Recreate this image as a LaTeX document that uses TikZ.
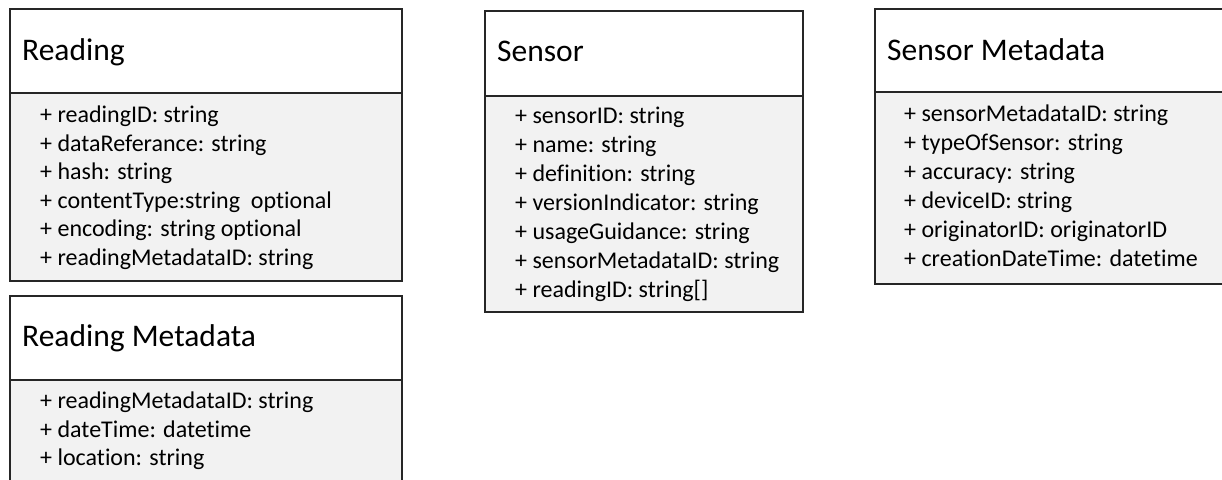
\documentclass[tikz,border=0pt]{standalone}
\usepackage{fontspec}
\setmainfont{Carlito}[Ligatures=NoCommon]
\begin{document}
\tikzset{
  boxline/.style={draw=black!85, line width=1.4pt},
  headbox/.style={boxline, fill=white},
  bodybox/.style={boxline, fill=black!5},
  classtitle/.style={anchor=base west, inner sep=0pt, font=\fontsize{31.5}{36}\selectfont},
  attr/.style={anchor=base west, inner sep=0pt, font=\fontsize{24}{28}\selectfont},
}
\begin{tikzpicture}[x=1pt, y=-1pt]
  \useasboundingbox (0,0) rectangle (1222,479);

  % Reading
  \path[headbox] (10,9) rectangle (402,93);
  \path[bodybox] (10,93) rectangle (402,281);
  \node[classtitle] (reading) at (22,60) {Reading};
  \foreach \t [count=\i] in {%
      + readingID: string,
      + dataReferance: string,
      + hash: string,
      + contentType:string\ \ optional,
      + encoding: string optional,
      + readingMetadataID: string}
    \node[attr] (reading-\i) at (40,{122.7+(\i-1)*28.5}) {\t};

  % Reading Metadata
  \path[headbox] (10,296) rectangle (402,380);
  \path[bodybox] (10,380) rectangle (402,495);
  \node[classtitle] (readingmeta) at (22,346.7) {Reading Metadata};
  \foreach \t [count=\i] in {%
      + readingMetadataID: string,
      + dateTime: datetime,
      + location: string}
    \node[attr] (readingmeta-\i) at (40,{408.3+(\i-1)*28.8}) {\t};

  % Sensor
  \path[headbox] (485,11) rectangle (803,96);
  \path[bodybox] (485,96) rectangle (803,312);
  \node[classtitle] (sensor) at (497,61.7) {Sensor};
  \foreach \t [count=\i] in {%
      + sensorID: string,
      + name: string,
      + definition: string,
      + versionIndicator: string,
      + usageGuidance: string,
      + sensorMetadataID: string,
      + readingID: string[]}
    \node[attr] (sensor-\i) at (515,{123.3+(\i-1)*29.05}) {\t};

  % Sensor Metadata
  \path[headbox] (875,9) rectangle (1230,92);
  \path[bodybox] (875,92) rectangle (1230,284);
  \node[classtitle] (sensormeta) at (887,60) {Sensor Metadata};
  \foreach \t [count=\i] in {%
      + sensorMetadataID: string,
      + typeOfSensor: string,
      + accuracy: string,
      + deviceID: string,
      + originatorID: originatorID,
      + creationDateTime: datetime}
    \node[attr] (sensormeta-\i) at (904,{121.5+(\i-1)*29}) {\t};
\end{tikzpicture}
\end{document}
